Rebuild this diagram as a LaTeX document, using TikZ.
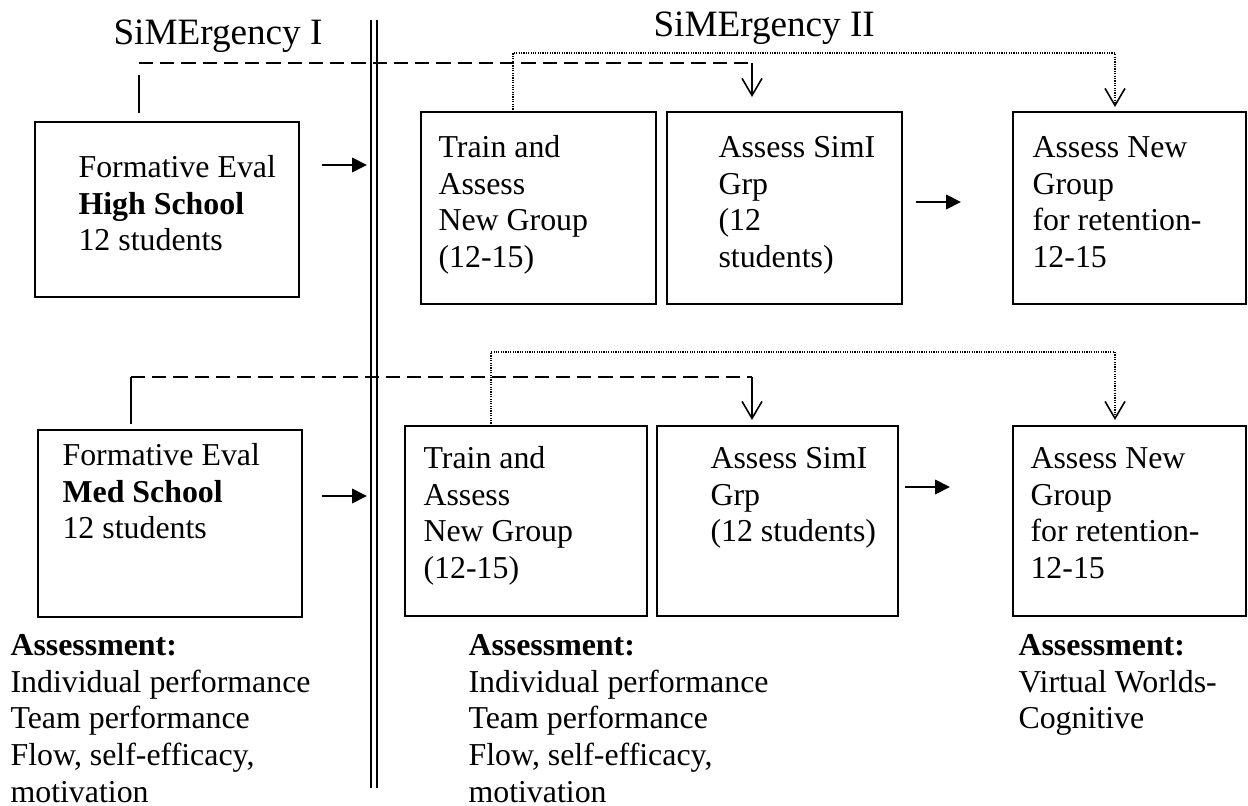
\documentclass[tikz,border=0pt]{standalone}
\usepackage{fontspec}
\setmainfont{Liberation Serif}
\usetikzlibrary{arrows.meta,fit}
\begin{document}
\begin{tikzpicture}[x=0.3765pt,y=-0.3765pt,
  box/.style={draw, line width=0.8pt, inner sep=0pt},
  txt/.style={anchor=north west, inner sep=0pt, align=left, font=\fontsize{12}{13.8}\selectfont},
  ttl/.style={anchor=base west, inner sep=0pt, font=\fontsize{14}{16}\selectfont},
  dashline/.style={line width=0.8pt, dash pattern=on 5.3pt off 2.7pt},
  dotline/.style={line width=0.45pt, dash pattern=on 0.45pt off 0.45pt},
  solidline/.style={line width=0.8pt},
  flow/.style={line width=0.8pt, -{Triangle[length=5.6pt,width=5.4pt]}},
  vtip/.style={-{Straight Barb[length=6.4pt,width=7.5pt,line width=0.6pt]}}]
\useasboundingbox (0,0) rectangle (1248,806);

% titles
\node[ttl] (tI) at (113,45) {SiMErgency I};
\node[ttl] (tII) at (653,37) {SiMErgency II};

% separator
\draw[solidline] (371,20) -- (371,788);
\draw[solidline] (377,20) -- (377,788);

% boxes top row
\node[box, fit={(35,122) (299,297)}] (b1) {};
\node[box, fit={(421,112) (656,304)}] (b2) {};
\node[box, fit={(667,112) (902,304)}] (b3) {};
\node[box, fit={(1013,112) (1246,304)}] (b4) {};
% boxes bottom row
\node[box, fit={(38,430) (302,617)}] (b5) {};
\node[box, fit={(405,426) (647,616)}] (b6) {};
\node[box, fit={(657,426) (898,616)}] (b7) {};
\node[box, fit={(1013,426) (1246,616)}] (b8) {};

% texts
\node[txt] (x1) at (78,151.3) {\strut Formative Eval\\\textbf{High School}\\12 students};
\node[txt] (x2) at (438,131.3) {\strut Train and\\Assess\\New Group\\(12-15)};
\node[txt] (x3) at (718,131.3) {\strut Assess SimI\\Grp\\(12\\students)};
\node[txt] (x4) at (1032,131.3) {\strut Assess New\\Group\\for retention-\\12-15};
\node[txt] (x5) at (62,439.3) {\strut Formative Eval\\\textbf{Med School}\\12 students};
\node[txt] (x6) at (423,442.3) {\strut Train and\\Assess\\New Group\\(12-15)};
\node[txt] (x7) at (710,442.3) {\strut Assess SimI\\Grp\\(12 students)};
\node[txt] (x8) at (1030,442.3) {\strut Assess New\\Group\\for retention-\\12-15};

\node[txt] (as1) at (10,629.3) {\strut\textbf{Assessment:}\\Individual performance\\Team performance\\Flow, self-efficacy,\\motivation};
\node[txt] (as2) at (468,629.3) {\strut\textbf{Assessment:}\\Individual performance\\Team performance\\Flow, self-efficacy,\\motivation};
\node[txt] (as3) at (1018,629.3) {\strut\textbf{Assessment:}\\Virtual Worlds-\\Cognitive};

% horizontal arrows
\coordinate (h1s) at (322,165); \coordinate (h1e) at (367,165);
\coordinate (h2s) at (916,202); \coordinate (h2e) at (961,202);
\coordinate (h3s) at (322,496); \coordinate (h3e) at (367,496);
\coordinate (h4s) at (905,487); \coordinate (h4e) at (950,487);
\draw[flow] (h1s) -- (h1e);
\draw[flow] (h2s) -- (h2e);
\draw[flow] (h3s) -- (h3e);
\draw[flow] (h4s) -- (h4e);

% top dashed link
\coordinate (s1a) at (139,75); \coordinate (s1b) at (139,113);
\coordinate (d1a) at (139,63); \coordinate (d1b) at (752,63); \coordinate (d1c) at (752,97);
\draw[solidline] (s1a) -- (s1b);
\draw[dashline] (d1a) -- (d1b);
\draw[solidline, vtip] (d1b) -- (d1c);

% top dotted link
\coordinate (p1a) at (513,112); \coordinate (p1b) at (513,53);
\coordinate (p1c) at (1115,53); \coordinate (p1d) at (1115,107);
\draw[dotline, vtip] (p1a) -- (p1b) -- (p1c) -- (p1d);

% bottom dashed link
\coordinate (s2a) at (131,424);
\coordinate (d2a) at (131,377); \coordinate (d2b) at (752,377); \coordinate (d2c) at (752,420);
\draw[solidline] (s2a) -- (d2a);
\draw[dashline] (d2a) -- (d2b);
\draw[solidline, vtip] (d2b) -- (d2c);

% bottom dotted link
\coordinate (p2a) at (491,426); \coordinate (p2b) at (491,352);
\coordinate (p2c) at (1115,352); \coordinate (p2d) at (1115,420);
\draw[dotline, vtip] (p2a) -- (p2b) -- (p2c) -- (p2d);
\end{tikzpicture}
\end{document}
